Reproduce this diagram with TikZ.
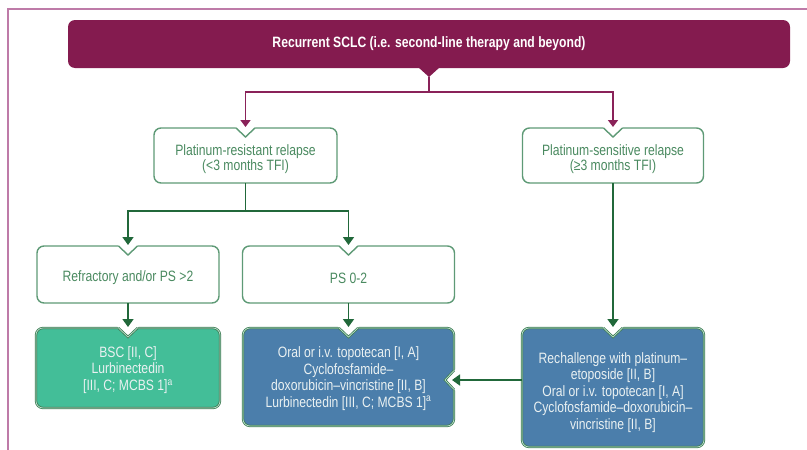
\documentclass[tikz,border=0pt]{standalone}
\usepackage{fontspec}
\setmainfont{Liberation Sans}[FakeStretch=0.81]
\usetikzlibrary{arrows.meta,calc}
\definecolor{plum}{HTML}{841B4F}
\definecolor{plumline}{HTML}{8A2259}
\definecolor{framec}{HTML}{BE7BA8}
\definecolor{boxline}{HTML}{5E9A76}
\definecolor{boxtext}{HTML}{4A8A60}
\definecolor{arrowgreen}{HTML}{21683A}
\definecolor{mint}{HTML}{43BE98}
\definecolor{steel}{HTML}{4B7EAB}
\definecolor{dkborder}{HTML}{3F7C55}
\definecolor{lightin}{HTML}{B9E0CC}
\definecolor{paletext}{HTML}{EAF1F2}
\tikzset{
  base/.style={inner sep=0pt, outer sep=0pt, rectangle},
  whitebox/.style={base, draw=boxline, line width=1.4pt, fill=white, rounded corners=7pt},
  fillbox/.style={base, draw=dkborder, double=lightin, double distance=0.7pt, line width=0.8pt, rounded corners=7pt},
  wline/.style={draw=boxline, line width=1.4pt},
  fline/.style={draw=dkborder, double=lightin, double distance=0.7pt, line width=0.8pt},
  txt/.style={font=\fontsize{15}{15.5}\selectfont, text=boxtext, align=center, inner sep=0pt},
  wtxt/.style={font=\fontsize{15}{16.5}\selectfont, text=paletext, align=center, inner sep=0pt},
  gline/.style={draw=arrowgreen, line width=1.8pt},
  garr/.style={gline, -{Triangle[width=11pt,length=8pt]}},
  parr/.style={draw=plumline, line width=1.5pt, -{Triangle[width=10pt,length=7pt]}},
}
\newcommand\notchtop[2]{%
  \fill[white] ($(#1.north)+(-11.5,-2.5)$) -- ($(#1.north)+(11.5,-2.5)$) -- ($(#1.north)+(0,8)$) -- cycle;
  \draw[#2] ($(#1.north)+(-9.5,0)$) -- ($(#1.north)+(0,9)$) -- ($(#1.north)+(9.5,0)$);}
\begin{document}
\begin{tikzpicture}[x=1pt,y=-1pt]
\useasboundingbox (0,0) rectangle (807,450);
\draw[framec, line width=1.2pt] (808,9) -- (8,9) -- (8,451);
% title
\node[base, fill=plum, rounded corners=7pt, minimum width=722pt, minimum height=48pt,
      text=white, font=\bfseries\fontsize{15}{16}\selectfont] (title) at (429,44)
      {Recurrent SCLC (i.e. second-line therapy and beyond)};
\fill[plum] ($(title.south)+(-11,-1)$) -- ($(title.south)+(11,-1)$) -- ($(title.south)+(0,9)$) -- cycle;
% level 1
\node[whitebox, minimum width=183pt, minimum height=55pt] (res) at (245.5,155.5) {};
\node[whitebox, minimum width=181pt, minimum height=55pt] (sen) at (613,155.5) {};
% level 2
\node[whitebox, minimum width=182pt, minimum height=57pt] (ref) at (128,274.5) {};
\node[whitebox, minimum width=212pt, minimum height=57pt] (ps) at (348.5,274.5) {};
% level 3
\node[fillbox, fill=mint, minimum width=184pt, minimum height=80pt] (bsc) at (128,368) {};
\node[fillbox, fill=steel, minimum width=211pt, minimum height=98pt] (blue1) at (348.5,377) {};
\node[fillbox, fill=steel, minimum width=182pt, minimum height=119pt] (blue2) at (613,387.5) {};
% notches
\notchtop{res}{wline}
\notchtop{sen}{wline}
\notchtop{ref}{wline}
\notchtop{ps}{wline}
\notchtop{bsc}{fline}
\notchtop{blue1}{fline}
\notchtop{blue2}{fline}
\coordinate (nt) at ($(blue1.east)+(0,3)$);
\fill[white] ($(nt)+(2.5,-11.5)$) -- ($(nt)+(2.5,11.5)$) -- ($(nt)+(-8,0)$) -- cycle;
\draw[fline] ($(nt)+(0,-9.5)$) -- ($(nt)+(-9,0)$) -- ($(nt)+(0,9.5)$);
% texts
\node[txt] (rest) at ($(res)+(0,3.5)$) {Platinum-resistant relapse\\(<3 months TFI)};
\node[txt] (sent) at ($(sen)+(0,3.5)$) {Platinum-sensitive relapse\\(≥3 months TFI)};
\node[txt] (reft) at ($(ref)+(0,3.5)$) {Refractory and/or PS >2};
\node[txt] (pst) at ($(ps)+(0,3.5)$) {PS 0-2};
\node[wtxt] (bsct) at ($(bsc)+(0,2)$) {BSC [II, C]\\Lurbinectedin\\{[III, C; MCBS 1]}\textsuperscript{a}};
\node[wtxt] (blue1t) at ($(blue1)+(0,1.5)$) {Oral or i.v. topotecan [I, A]\\Cyclofosfamide–\\doxorubicin–vincristine [II, B]\\Lurbinectedin [III, C; MCBS 1]\textsuperscript{a}};
\node[wtxt] (blue2t) at ($(blue2)+(0,5)$) {Rechallenge with platinum–\\etoposide [II, B]\\Oral or i.v. topotecan [I, A]\\Cyclofosfamide–doxorubicin–\\vincristine [II, B]};
% purple connectors
\coordinate (ptip) at ($(title.south)+(0,9)$);
\coordinate (pj) at ($(title.south)+(0,24)$);
\draw[plumline, line width=1.5pt] (ptip) -- (pj);
\draw[parr] (pj) -| ($(res.north)+(0,-1)$);
\draw[parr] (pj) -| ($(sen.north)+(0,-1)$);
% green connectors
\coordinate (gj) at ($(res.south)+(0,28)$);
\draw[gline] (res.south) -- (gj);
\draw[garr] (gj) -| ($(ref.north)+(0,-1)$);
\draw[garr] (gj) -| ($(ps.north)+(0,-1)$);
\draw[garr] (ref.south) -- ($(bsc.north)+(0,-1)$);
\draw[garr] (ps.south) -- ($(blue1.north)+(0,-1)$);
\draw[garr] (sen.south) -- ($(blue2.north)+(0,-1)$);
\draw[garr] (blue2.west |- nt) -- ($(nt)+(-2,0)$);
\end{tikzpicture}
\end{document}
